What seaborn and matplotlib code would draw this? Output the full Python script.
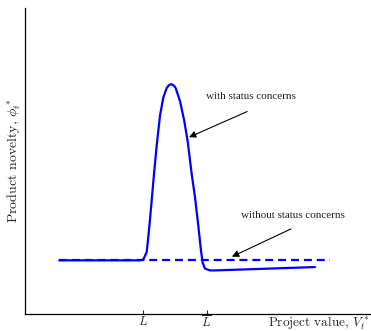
import matplotlib
matplotlib.use("Agg")
import matplotlib.pyplot as plt
import seaborn as sns
import pandas as pd

# data (arbitrary units)
with_x = [0.99, 3.32, 3.42, 3.517, 3.564, 3.613, 3.662, 3.728, 3.806, 3.902, 3.997, 4.095,
          4.147, 4.220, 4.306, 4.355, 4.480, 4.604, 4.702, 4.818, 4.913, 5.009, 5.087,
          5.136, 5.202, 5.35, 5.49, 8.38]
with_y = [1.74, 1.74, 1.77, 2.01, 2.51, 3.09, 3.71, 4.56, 5.50, 6.48, 7.07, 7.38,
          7.46, 7.51, 7.46, 7.38, 6.95, 6.30, 5.63, 4.56, 3.81, 2.87, 2.05,
          1.66, 1.47, 1.41, 1.41, 1.52]
without_x = [0.99, 8.82]
without_y = [1.74, 1.74]
tick_pos = [3.40, 5.25]
tick_labels = [r"$L$", r"$\overline{L}$"]

sns.set_style("white")
plt.rcParams["mathtext.fontset"] = "cm"

fig = plt.figure(figsize=(3.71, 3.31), dpi=100)
ax = fig.add_axes([25 / 371, 17.5 / 331, 346 / 371, 305.5 / 331])

df_with = pd.DataFrame({"x": with_x, "y": with_y})
df_without = pd.DataFrame({"x": without_x, "y": without_y})
sns.lineplot(data=df_with, x="x", y="y", ax=ax, color="#0000ff", lw=1.6, sort=False)
sns.lineplot(data=df_without, x="x", y="y", ax=ax, color="#0000ff", lw=1.6, sort=False,
             dashes=False, linestyle=(0, (3.6, 2.2)))

ax.set_xlim(0, 10)
ax.set_ylim(0, 10)
for s in ["top", "right"]:
    ax.spines[s].set_visible(False)
for s in ["left", "bottom"]:
    ax.spines[s].set_color("black")
    ax.spines[s].set_linewidth(0.9)

ax.set_yticks([])
ax.set_xticks(tick_pos)
ax.set_xticklabels(tick_labels, fontsize=9)
ax.tick_params(axis="x", direction="in", length=3, width=0.8, pad=1.0, bottom=True)

ax.set_xlabel(r"Project value, $V_t^*$", fontsize=9.5, fontfamily="cmr10", ha="right")
ax.xaxis.set_label_coords(0.996, -0.003)
ax.set_ylabel(r"Product novelty, $\phi_t^*$", fontsize=10, fontfamily="cmr10")
ax.yaxis.set_label_coords(-0.006, 0.5)

ax.annotate("with status concerns", xy=(4.74, 5.77), xytext=(6.53, 7.10),
            ha="center", va="center", fontsize=8, fontfamily="Liberation Serif",
            color="#222222")
ax.annotate("", xy=(4.74, 5.77), xytext=(6.42, 6.61),
            arrowprops=dict(arrowstyle="-|>", color="black", lw=0.8, mutation_scale=10,
                            shrinkA=0, shrinkB=0))
ax.annotate("without status concerns", xy=(5.98, 1.86), xytext=(7.75, 3.22),
            ha="center", va="center", fontsize=8, fontfamily="Liberation Serif",
            color="#222222")
ax.annotate("", xy=(5.98, 1.86), xytext=(7.69, 2.77),
            arrowprops=dict(arrowstyle="-|>", color="black", lw=0.8, mutation_scale=10,
                            shrinkA=0, shrinkB=0))

if ax.get_legend():
    ax.get_legend().remove()
fig.savefig("out.png", dpi=100)
